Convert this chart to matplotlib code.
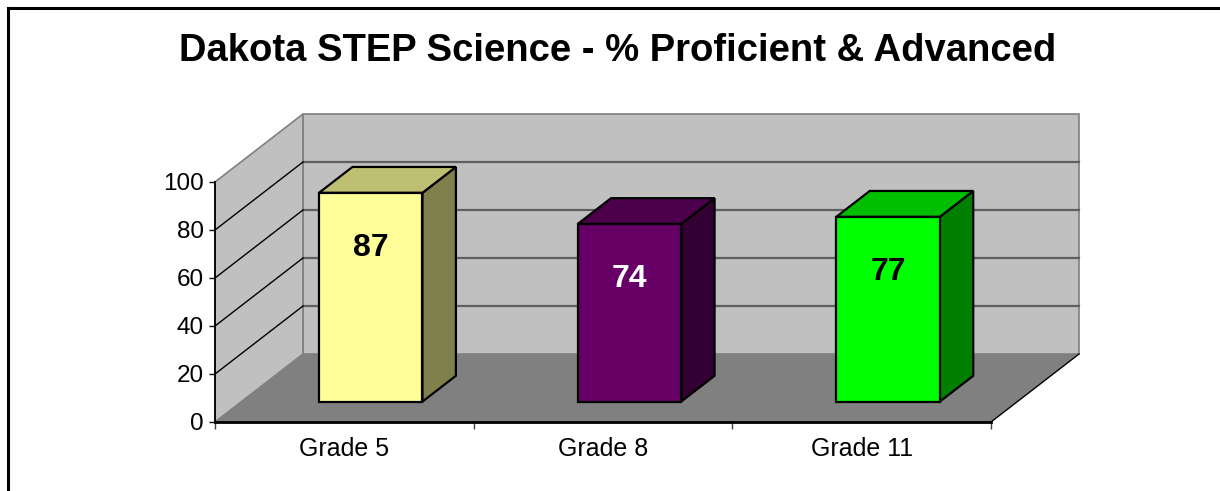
import matplotlib
matplotlib.use("Agg")
import matplotlib.pyplot as plt
from matplotlib.patches import Polygon
from matplotlib.lines import Line2D

# ---- data ----
categories = ["Grade 5", "Grade 8", "Grade 11"]
values = [87, 74, 77]
front_colors = ["#FFFF99", "#660066", "#00FF00"]
top_colors = ["#BFBF73", "#4C004C", "#00BF00"]
side_colors = ["#80804D", "#330033", "#007F00"]
label_colors = ["black", "white", "black"]
yticks = [0, 20, 40, 60, 80, 100]
title = "Dakota STEP Science - % Proficient & Advanced"

plt.rcParams["font.family"] = ["Liberation Sans", "DejaVu Sans"]

W, H = 1220, 491
fig = plt.figure(figsize=(W / 100, H / 100), dpi=100)
fig.patch.set_facecolor("white")

# front plane of the 3-D plot area (pixels): x 215..991, y 422(0)..182(100)
ax = fig.add_axes([215 / W, 1 - 422 / H, 776 / W, 240 / H])
ax.set_xlim(0, len(categories))
ax.set_ylim(0, 100)
ax.patch.set_visible(False)

# depth offset (full depth) in data units
DX = 88 / 776 * len(categories)
DY = 68 / 240 * 100


def P(x, y, d):
    return (x + d * DX, y + d * DY)


def poly(pts, fc, ec="none", lw=0, z=1):
    ax.add_patch(Polygon(pts, closed=True, facecolor=fc, edgecolor=ec,
                         linewidth=lw, zorder=z, clip_on=False, joinstyle="miter"))


def line(p0, p1, color, lw, z=2):
    ax.add_line(Line2D([p0[0], p1[0]], [p0[1], p1[1]], color=color, lw=lw,
                       zorder=z, clip_on=False))


n = len(categories)
ymax = yticks[-1]
wall = "#C0C0C0"
# back wall
poly([P(0, 0, 1), P(n, 0, 1), P(n, ymax, 1), P(0, ymax, 1)], wall, "#808080", 1.2, 1)
# side wall
poly([P(0, 0, 0), P(0, 0, 1), P(0, ymax, 1), P(0, ymax, 0)], wall, "#808080", 1.2, 1)
# floor
poly([P(0, 0, 0), P(n, 0, 0), P(n, 0, 1), P(0, 0, 1)], "#808080", z=1.1)
line(P(n, 0, 0), P(n, 0, 1), "black", 1.0, 1.2)

# gridlines
for t in yticks[1:-1]:
    line(P(0, t, 1), P(n, t, 1), "#5F5F5F", 1.6, 1.3)
    line(P(0, t, 0), P(0, t, 1), "black", 1.0, 1.3)

# bars
bw = 0.4
d0, d1 = 0.3, 0.68
for i, v in enumerate(values):
    c = i + 0.5
    x0, x1 = c - bw / 2, c + bw / 2
    poly([P(x1, 0, d0), P(x1, 0, d1), P(x1, v, d1), P(x1, v, d0)],
         side_colors[i], "black", 1.6, 3)
    poly([P(x0, v, d0), P(x1, v, d0), P(x1, v, d1), P(x0, v, d1)],
         top_colors[i], "black", 1.6, 3)
    poly([P(x0, 0, d0), P(x1, 0, d0), P(x1, v, d0), P(x0, v, d0)],
         front_colors[i], "black", 1.6, 3.1)
    lx, ly = P(c, v - 23, d0)
    ax.text(lx, ly, str(v), ha="center", va="center", fontsize=23,
            fontweight="bold", color=label_colors[i], zorder=4)

# axes
for s in ["top", "right"]:
    ax.spines[s].set_visible(False)
ax.spines["left"].set_color("black")
ax.spines["left"].set_linewidth(1.3)
ax.spines["bottom"].set_color("black")
ax.spines["bottom"].set_linewidth(2.0)
ax.spines["left"].set_zorder(2)
ax.spines["bottom"].set_zorder(2)

ax.set_yticks(yticks)
ax.set_yticklabels([str(t) for t in yticks])
ax.tick_params(axis="y", direction="out", length=4, width=1, pad=4,
               labelsize=17.5, colors="black")
ax.set_xticks(range(n + 1))
ax.set_xticklabels([""] * (n + 1))
ax.set_xticks([i + 0.5 for i in range(n)], minor=True)
ax.set_xticklabels(categories, minor=True)
ax.tick_params(axis="x", which="major", direction="out", length=5, width=1,
               color="#404040")
ax.tick_params(axis="x", which="minor", length=0, pad=11, labelsize=18)

# title
fig.text(618 / W, 1 - 51 / H, title, ha="center", va="center",
         fontsize=27.5, fontweight="bold")

# chart border (top and left visible)
fig.add_artist(Line2D([8 / W, 1.0], [1 - 8 / H, 1 - 8 / H], color="black",
                      lw=2.2, transform=fig.transFigure))
fig.add_artist(Line2D([8 / W, 8 / W], [0.0, 1 - 8 / H], color="black",
                      lw=2.2, transform=fig.transFigure))

fig.savefig("out.png", dpi=100, facecolor="white")
